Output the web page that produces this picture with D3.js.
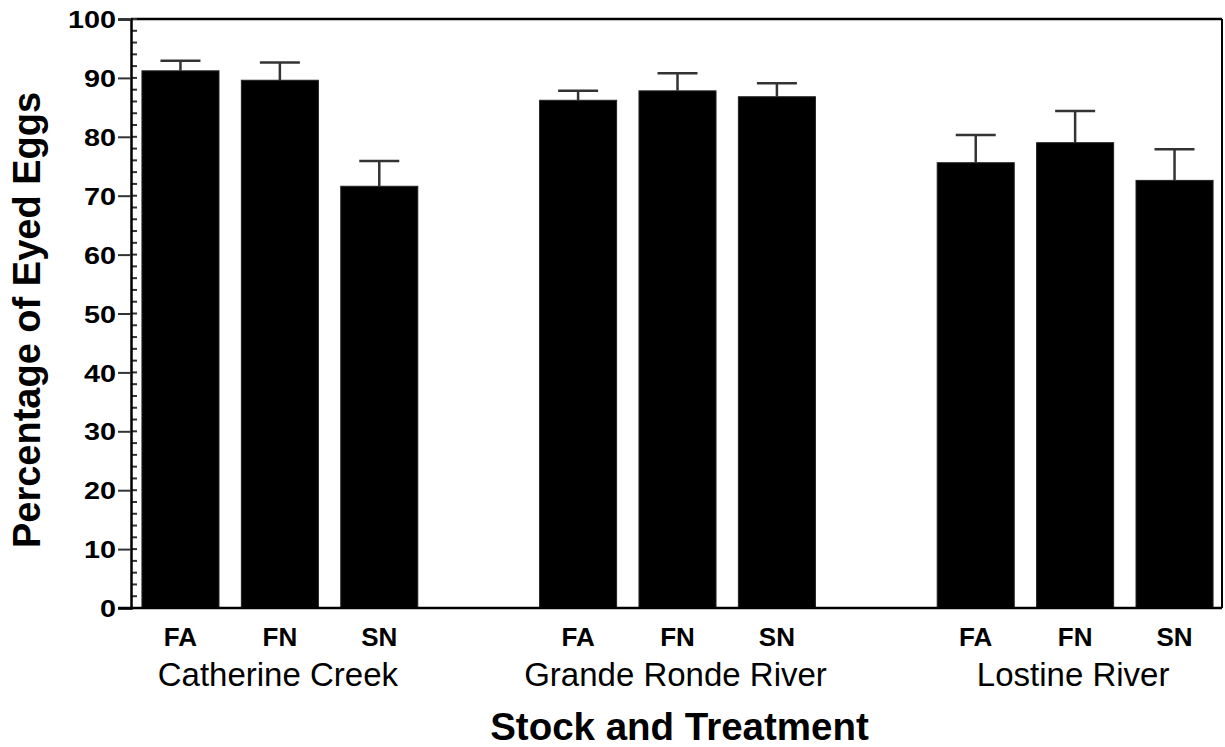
<!DOCTYPE html>
<html>
<head>
<meta charset="utf-8">
<script src="https://cdn.jsdelivr.net/npm/d3@7"></script>
<style>
  html, body { margin: 0; padding: 0; background: #fff; }
  svg { display: block; }
  text { font-family: Arial, "Liberation Sans", Helvetica, sans-serif; fill: #000; }
</style>
</head>
<body>
<svg id="chart" width="1225" height="747"></svg>
<script>
// ---- data ----
const groups = ["Catherine Creek", "Grande Ronde River", "Lostine River"];
const treatments = ["FA", "FN", "SN"];
const means = [
  [91.2, 89.6, 71.6],
  [86.2, 87.8, 86.8],
  [75.6, 79.0, 72.6]
];
const upperErr = [
  [92.9, 92.6, 75.9],
  [87.8, 90.8, 89.1],
  [80.3, 84.4, 77.9]
];
const yTicks = [0, 10, 20, 30, 40, 50, 60, 70, 80, 90, 100];

(function () {
// ---- layout ----
const mLeft = 131, mRight = 1222, mTop = 19, mBottom = 608;
const svg = d3.select("#chart");

// slots: three per group plus one empty slot between groups
const slots = [];
groups.forEach((g, gi) => {
  treatments.forEach(t => slots.push(g + "|" + t));
  if (gi < groups.length - 1) slots.push("gap" + gi);
});

const x = d3.scaleBand().domain(slots).range([mLeft + 2, mRight]).paddingInner(0.225).paddingOuter(0.09);
const y = d3.scaleLinear().domain([0, 100]).range([mBottom, mTop]);

const rows = [];
groups.forEach((g, gi) => treatments.forEach((t, ti) => rows.push({
  key: g + "|" + t, group: g, t, v: means[gi][ti], e: upperErr[gi][ti]
})));

// bars
svg.append("g").selectAll("rect").data(rows).join("rect")
  .attr("x", d => x(d.key))
  .attr("y", d => y(d.v))
  .attr("width", x.bandwidth())
  .attr("height", d => y(0) - y(d.v))
  .attr("fill", "#000")
  .attr("stroke", "#222")
  .attr("stroke-width", 1);

// error bars
const eg = svg.append("g").attr("stroke", "#333").attr("stroke-width", 2.5);
rows.forEach(d => {
  const cx = x(d.key) + x.bandwidth() / 2;
  eg.append("line").attr("x1", cx).attr("x2", cx).attr("y1", y(d.v)).attr("y2", y(d.e));
  eg.append("line").attr("x1", cx - 20).attr("x2", cx + 20).attr("y1", y(d.e)).attr("y2", y(d.e));
});

// frame top & right
svg.append("line").attr("x1", mLeft).attr("x2", mRight).attr("y1", mTop).attr("y2", mTop)
  .attr("stroke", "#000").attr("stroke-width", 2.5);
svg.append("line").attr("x1", mRight).attr("x2", mRight).attr("y1", mTop).attr("y2", mBottom)
  .attr("stroke", "#000").attr("stroke-width", 2);

// y axis: minor ticks (inward)
const minor = d3.range(0, 101, 2);
svg.append("g").selectAll("line").data(minor).join("line")
  .attr("x1", mLeft).attr("x2", mLeft + 6)
  .attr("y1", d => y(d)).attr("y2", d => y(d))
  .attr("stroke", "#333").attr("stroke-width", 2);

// y axis via d3.axisLeft
const yAxis = d3.axisLeft(y).tickValues(yTicks).tickSize(13).tickPadding(3).tickFormat(d3.format("d"));
const ya = svg.append("g").attr("transform", `translate(${mLeft},0)`).call(yAxis);
ya.select(".domain").attr("stroke", "#000").attr("stroke-width", 2.5);
ya.selectAll(".tick line").attr("stroke", "#333").attr("stroke-width", 2);
ya.selectAll(".tick text")
  .attr("font-size", 24).attr("font-weight", "bold")
  .attr("font-family", "Arial, 'Liberation Sans', sans-serif")
  .attr("fill", "#000")
  .attr("transform", "translate(-15,0) scale(1.2,1)")
  .attr("x", 0).attr("dy", "0.36em");

// x axis line
svg.append("line").attr("x1", mLeft - 13).attr("x2", mRight).attr("y1", mBottom).attr("y2", mBottom)
  .attr("stroke", "#000").attr("stroke-width", 2.5);

// treatment labels
svg.append("g").selectAll("text").data(rows).join("text")
  .attr("x", d => x(d.key) + x.bandwidth() / 2)
  .attr("y", 646)
  .attr("text-anchor", "middle")
  .attr("font-size", 26).attr("font-weight", "bold")
  .text(d => d.t);

// group labels
svg.append("g").selectAll("text").data(groups).join("text")
  .attr("x", g => {
    const a = x(g + "|" + treatments[0]);
    const b = x(g + "|" + treatments[treatments.length - 1]) + x.bandwidth();
    return (a + b) / 2 - 2;
  })
  .attr("y", 686)
  .attr("text-anchor", "middle")
  .attr("font-size", 33)
  .text(g => g);

// axis titles
svg.append("text")
  .attr("x", (mLeft + mRight) / 2 + 3).attr("y", 740)
  .attr("text-anchor", "middle")
  .attr("font-size", 38.5).attr("font-weight", "bold")
  .text("Stock and Treatment");

svg.append("text")
  .attr("transform", "translate(40,320) rotate(-90)")
  .attr("text-anchor", "middle")
  .attr("font-size", 38).attr("font-weight", "bold")
  .text("Percentage of Eyed Eggs");
})();
</script>
</body>
</html>
